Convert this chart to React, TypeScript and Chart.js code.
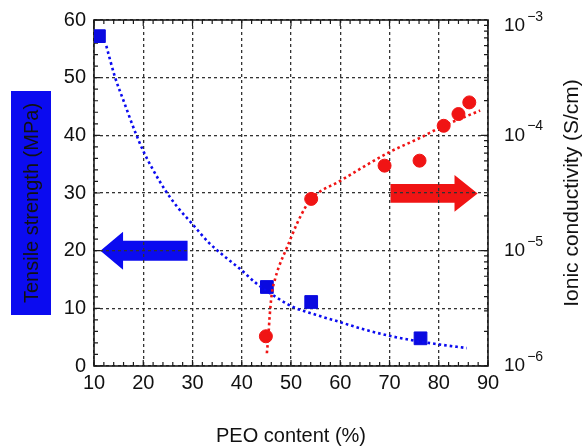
import React, { useEffect, useRef } from "react";
import { Chart, registerables } from "chart.js";

Chart.register(...registerables);

// ---- data ----
const peoStrength = [11.0, 45.1, 54.1, 76.3];
const tensileStrength = [57.2, 13.7, 11.1, 4.8];

const peoConductivity = [44.9, 54.1, 69.0, 76.1, 81.0, 84.0, 86.2];
const ionicConductivity = [1.81e-6, 2.81e-5, 5.46e-5, 6.03e-5, 1.21e-4, 1.53e-4, 1.93e-4];

const strengthFitX = [12.5, 14.3, 16.0, 18.4, 20.0, 22.0, 24.6, 27.0, 30.0, 33.3, 36.5, 39.7, 43.0, 46.5, 50.5, 55.0, 60.0, 65.0, 70.2, 75.0, 79.6, 85.7];
const strengthFitY = [55.5, 50.0, 46.0, 40.5, 37.3, 34.0, 30.3, 27.5, 24.6, 21.4, 19.0, 16.8, 14.3, 12.2, 10.2, 8.9, 7.6, 6.3, 5.2, 4.4, 3.8, 3.1];

const condFitX = [45.1, 45.4, 45.7, 46.1, 46.8, 47.5, 49.2, 51.2, 52.9, 54.1, 60.0, 69.8, 76.3, 80.3, 88.4];
const condFitY = [1.29e-6, 1.82e-6, 2.82e-6, 4.22e-6, 5.75e-6, 7.16e-6, 1.07e-5, 1.71e-5, 2.37e-5, 2.82e-5, 4.03e-5, 7.08e-5, 9.55e-5, 1.17e-4, 1.64e-4];

const xTicks = [10, 20, 30, 40, 50, 60, 70, 80, 90];
const yTicks = [0, 10, 20, 30, 40, 50, 60];
const y2Decades = [-6, -5, -4, -3];

// arrows in data units (x, tensile-axis y): [tail, headBase, tip, centerY, shaftHalf, headHalf]
const blueArrow = [29.0, 15.9, 11.3, 20, 1.73, 3.3];
const redArrow = [70.2, 83.2, 87.9, 29.93, 1.64, 3.2];

const BLUE = "#0b0bf0";
const RED = "#f01414";
const FONT = "'Liberation Sans', Arial, sans-serif";

function drawArrow(ctx: CanvasRenderingContext2D, xs: any, ys: any, a: number[], color: string) {
  const [tail, base, tip, cy, sh, hh] = a;
  const px = (v: number) => xs.getPixelForValue(v);
  const py = (v: number) => ys.getPixelForValue(v);
  ctx.save();
  ctx.fillStyle = color;
  ctx.beginPath();
  ctx.moveTo(px(tail), py(cy + sh));
  ctx.lineTo(px(base), py(cy + sh));
  ctx.lineTo(px(base), py(cy + hh));
  ctx.lineTo(px(tip), py(cy));
  ctx.lineTo(px(base), py(cy - hh));
  ctx.lineTo(px(base), py(cy - sh));
  ctx.lineTo(px(tail), py(cy - sh));
  ctx.closePath();
  ctx.fill();
  ctx.restore();
}

const decorPlugin = {
  id: "decor",
  beforeDraw(chart: any) {
    const { ctx, scales } = chart;
    drawArrow(ctx, scales.x, scales.y, blueArrow, BLUE);
    drawArrow(ctx, scales.x, scales.y, redArrow, RED);
  },
  beforeDatasetsDraw(chart: any) {
    const { ctx, chartArea: ca, scales } = chart;
    const xs = scales.x, ys = scales.y, y2 = scales.y2;
    ctx.save();
    ctx.strokeStyle = "#1a1a1a";
    ctx.lineWidth = 1.2;
    ctx.beginPath();
    for (let v = 10; v <= 90; v += 2) {
      const p = xs.getPixelForValue(v);
      const len = v % 10 === 0 ? 6 : 4;
      ctx.moveTo(p, ca.bottom);
      ctx.lineTo(p, ca.bottom - len);
      ctx.moveTo(p, ca.top);
      ctx.lineTo(p, ca.top + len);
    }
    for (let v = 0; v <= 60; v += 2) {
      const p = ys.getPixelForValue(v);
      const len = v % 10 === 0 ? 6 : 4;
      ctx.moveTo(ca.left, p);
      ctx.lineTo(ca.left + len, p);
    }
    for (let d = -6; d <= -4; d++) {
      for (let m = 1; m <= 9; m++) {
        const p = y2.getPixelForValue(m * Math.pow(10, d));
        const len = m === 1 ? 7 : 4;
        ctx.moveTo(ca.right, p);
        ctx.lineTo(ca.right - len, p);
      }
    }
    ctx.stroke();
    ctx.lineWidth = 1.6;
    ctx.strokeStyle = "#1a1a1a";
    ctx.strokeRect(ca.left, ca.top, ca.right - ca.left, ca.bottom - ca.top);
    ctx.restore();
  },
  afterDraw(chart: any) {
    const { ctx, chartArea: ca, scales } = chart;
    const y2 = scales.y2;
    ctx.save();
    ctx.fillStyle = "#111";
    ctx.textBaseline = "middle";
    ctx.textAlign = "left";
    for (const d of y2Decades) {
      let p = y2.getPixelForValue(Math.pow(10, d));
      p = Math.max(p, 26);
      const x0 = ca.right + 16;
      ctx.font = `19px ${FONT}`;
      ctx.fillText("10", x0, p);
      const w = ctx.measureText("10").width;
      ctx.font = `14px ${FONT}`;
      ctx.fillText("\u2212" + String(-d), x0 + w + 2, p - 9);
    }
    ctx.fillStyle = BLUE;
    ctx.fillRect(11, 91, 40, 224);
    ctx.fillStyle = "#111";
    ctx.font = `20px ${FONT}`;
    ctx.textAlign = "center";
    ctx.textBaseline = "middle";
    ctx.save();
    ctx.translate(31, 203);
    ctx.rotate(-Math.PI / 2);
    ctx.fillText("Tensile strength (MPa)", 0, 1);
    ctx.restore();
    ctx.save();
    ctx.translate(572, 193);
    ctx.rotate(-Math.PI / 2);
    ctx.font = `21px ${FONT}`;
    ctx.fillText("Ionic conductivity (S/cm)", 0, 0);
    ctx.restore();
    ctx.restore();
  },
};

export default function App() {
  const ref = useRef<HTMLCanvasElement | null>(null);
  useEffect(() => {
    if (!ref.current) return;
    const chart = new Chart(ref.current, {
      type: "scatter",
      data: {
        datasets: [
          {
            type: "line",
            data: strengthFitX.map((x, i) => ({ x, y: strengthFitY[i] })),
            yAxisID: "y",
            borderColor: BLUE,
            borderWidth: 2.6,
            borderDash: [2.6, 3],
            pointRadius: 0,
            cubicInterpolationMode: "monotone",
            fill: false,
          },
          {
            type: "line",
            data: condFitX.map((x, i) => ({ x, y: condFitY[i] })),
            yAxisID: "y2",
            borderColor: RED,
            borderWidth: 2.6,
            borderDash: [2.6, 3],
            pointRadius: 0,
            cubicInterpolationMode: "monotone",
            fill: false,
          },
          {
            data: peoStrength.map((x, i) => ({ x, y: tensileStrength[i] })),
            yAxisID: "y",
            pointStyle: "rect",
            pointRadius: 9,
            backgroundColor: "#0a0ae0",
            borderColor: "#0a0ae0",
            borderWidth: 1,
          },
          {
            data: peoConductivity.map((x, i) => ({ x, y: ionicConductivity[i] })),
            yAxisID: "y2",
            pointStyle: "circle",
            pointRadius: 6.5,
            backgroundColor: RED,
            borderColor: RED,
            borderWidth: 1,
          },
        ] as any,
      },
      options: {
        animation: false,
        responsive: false,
        events: [],
        layout: { padding: { top: 19, left: 0, right: 0, bottom: 0 } },
        plugins: { legend: { display: false }, tooltip: { enabled: false } },
        scales: {
          x: {
            type: "linear",
            position: "bottom",
            min: 10,
            max: 90,
            afterBuildTicks: (s: any) => { s.ticks = xTicks.map((v) => ({ value: v })); },
            afterFit: (s: any) => { s.height = 80; },
            ticks: { font: { family: FONT, size: 20 }, color: "#111", padding: 5, maxRotation: 0 },
            grid: { color: "#333", lineWidth: 1.3, drawTicks: false },
            border: { display: false, dash: [3, 3] },
            title: {
              display: true,
              text: "PEO content (%)",
              font: { family: FONT, size: 20, lineHeight: 1 },
              color: "#111",
              padding: 0,
            },
          },
          y: {
            type: "linear",
            position: "left",
            min: 0,
            max: 60,
            afterBuildTicks: (s: any) => { s.ticks = yTicks.map((v) => ({ value: v })); },
            afterFit: (s: any) => { s.width = 94; },
            ticks: { font: { family: FONT, size: 20 }, color: "#111", padding: 8 },
            grid: { color: "#333", lineWidth: 1.3, drawTicks: false },
            border: { display: false, dash: [3, 3] },
          },
          y2: {
            type: "logarithmic",
            position: "right",
            min: 1e-6,
            max: 1e-3,
            afterFit: (s: any) => { s.width = 95; },
            ticks: { display: false },
            grid: { display: false, drawTicks: false },
            border: { display: false },
          },
        },
      } as any,
      plugins: [decorPlugin],
    });
    return () => chart.destroy();
  }, []);
  return (
    <div style={{ position: "absolute", left: 0, top: 0, width: 583, height: 446, background: "#fff" }}>
      <canvas ref={ref} width={583} height={446} style={{ display: "block" }} />
    </div>
  );
}
